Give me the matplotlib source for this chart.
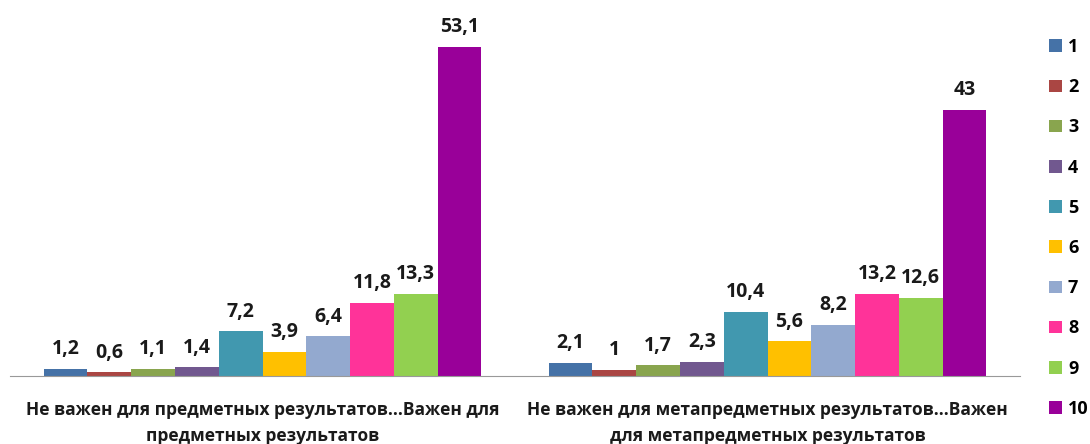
import matplotlib.pyplot as plt
import numpy as np

# categories and values (percent)
categories = ['Не важен для предметных результатов...Важен для\nпредметных результатов',
              'Не важен для метапредметных результатов...Важен\nдля метапредметных результатов']
series = ['1', '2', '3', '4', '5', '6', '7', '8', '9', '10']
subject = [1.2, 0.6, 1.1, 1.4, 7.2, 3.9, 6.4, 11.8, 13.3, 53.1]
meta = [2.1, 1, 1.7, 2.3, 10.4, 5.6, 8.2, 13.2, 12.6, 43]
colors = ['#4572A7', '#AA4643', '#89A54E', '#71588F', '#4198AF',
          '#FFC000', '#93A9CF', '#FF3399', '#92D050', '#990099']

plt.rcParams['font.family'] = ['Open Sans', 'DejaVu Sans']

fig = plt.figure(figsize=(10.9, 4.44), dpi=100)
ax = fig.add_axes([10 / 1090, 68 / 444, 1010 / 1090, 370 / 444])

x = np.arange(len(categories))
w = 0.0867
for i, name in enumerate(series):
    vals = [subject[i], meta[i]]
    pos = x - 5 * w + (i + 0.5) * w
    bars = ax.bar(pos, vals, width=w, color=colors[i], label=name)
    labels = [str(v).replace('.', ',') for v in vals]
    ax.bar_label(bars, labels=labels, padding=7, fontsize=14, fontweight='bold', color='#1a1a1a')

ax.set_xlim(-0.5, 1.5)
ax.set_ylim(0, 59.7)
ax.set_xticks(x)
ax.set_xticklabels(categories, fontsize=12.5, fontweight='bold', color='#1a1a1a', linespacing=1.55)
ax.tick_params(axis='x', length=0, pad=18)
ax.set_yticks([])
for s in ['top', 'right', 'left']:
    ax.spines[s].set_visible(False)
ax.spines['bottom'].set_color('#999999')

fig.legend(loc='upper left', bbox_to_anchor=(1049 / 1090, 1 - 38 / 444), frameon=False,
           borderpad=0, borderaxespad=0,
           handlelength=0.7, handleheight=0.7, handletextpad=0.35, labelspacing=1.23,
           prop={'size': 13, 'weight': 'bold'})

fig.savefig('out.png', dpi=100)
